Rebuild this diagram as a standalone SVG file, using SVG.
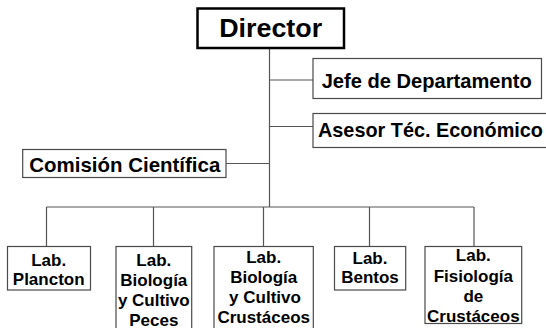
<svg xmlns="http://www.w3.org/2000/svg" width="546" height="328" viewBox="0 0 546 328">
<style>
.bg{fill:#fff}
.box{fill:#fff;stroke:#4a4a4a;stroke-width:1.2}
.dir{fill:#fff;stroke:#000;stroke-width:2.5}
.t{font-family:"Liberation Sans",Arial,sans-serif;font-weight:bold;fill:#000}
.lab{font-size:17px;text-anchor:middle}
.side{font-size:20.5px}
.conn line{stroke:#555;stroke-width:1.2}
</style>
<rect class="bg" x="0" y="0" width="546" height="328"/>
<g id="connectors" class="conn">
<line x1="269.5" y1="48" x2="269.5" y2="207"/>
<line x1="269.5" y1="80" x2="313" y2="80"/>
<line x1="269.5" y1="126.5" x2="313" y2="126.5"/>
<line x1="226" y1="163.5" x2="269.5" y2="163.5"/>
<line x1="46.5" y1="207" x2="474" y2="207"/>
<line x1="46.5" y1="207" x2="46.5" y2="246.5"/>
<line x1="153.5" y1="207" x2="153.5" y2="246.5"/>
<line x1="263.5" y1="207" x2="263.5" y2="246.5"/>
<line x1="369.5" y1="207" x2="369.5" y2="246.5"/>
<line x1="474" y1="207" x2="474" y2="246.5"/>
</g>
<g id="director">
<rect class="dir" x="197.5" y="8.5" width="146.5" height="39.5"/>
<text class="t" x="270.7" y="36.7" font-size="26.5" text-anchor="middle" textLength="103" lengthAdjust="spacingAndGlyphs">Director</text>
</g>
<g id="jefe">
<rect class="box" x="313" y="58.5" width="228.5" height="40"/>
<text class="t side" x="321.7" y="87.5" textLength="210" lengthAdjust="spacingAndGlyphs">Jefe de Departamento</text>
</g>
<g id="asesor">
<rect class="box" x="313" y="113.5" width="240" height="34"/>
<text class="t side" x="318" y="137" textLength="225" lengthAdjust="spacingAndGlyphs">Asesor Téc. Económico</text>
</g>
<g id="comision">
<rect class="box" x="22.7" y="149.5" width="203.3" height="28"/>
<text class="t side" x="29.3" y="171.7" textLength="191" lengthAdjust="spacingAndGlyphs">Comisión Científica</text>
</g>
<g id="lab-plancton">
<rect class="box" x="7.5" y="246.5" width="83" height="43.5"/>
<text class="t lab" x="48.7" y="265.7">Lab.</text>
<text class="t lab" x="48.7" y="285">Plancton</text>
</g>
<g id="lab-peces">
<rect class="box" x="116" y="246.5" width="75.7" height="90"/>
<text class="t lab" x="153.8" y="265.5">Lab.</text>
<text class="t lab" x="153.8" y="285.5">Biología</text>
<text class="t lab" x="153.8" y="305.5">y Cultivo</text>
<text class="t lab" x="153.8" y="325.5">Peces</text>
</g>
<g id="lab-crustaceos">
<rect class="box" x="214" y="246.5" width="99.3" height="90"/>
<text class="t lab" x="263.7" y="263.3">Lab.</text>
<text class="t lab" x="263.7" y="283.3">Biología</text>
<text class="t lab" x="265" y="303.3">y Cultivo</text>
<text class="t lab" x="263.7" y="323.3">Crustáceos</text>
</g>
<g id="lab-bentos">
<rect class="box" x="334.5" y="246.5" width="71.2" height="43.5"/>
<text class="t lab" x="370" y="264.3">Lab.</text>
<text class="t lab" x="370" y="283.3">Bentos</text>
</g>
<g id="lab-fisiologia">
<rect class="box" x="425" y="246.5" width="96.7" height="77"/>
<text class="t lab" x="473.3" y="260.7">Lab.</text>
<text class="t lab" x="473.3" y="281.5">Fisiología</text>
<text class="t lab" x="473.3" y="301.7">de</text>
<text class="t lab" x="473.3" y="321.7">Crustáceos</text>
</g>
</svg>
